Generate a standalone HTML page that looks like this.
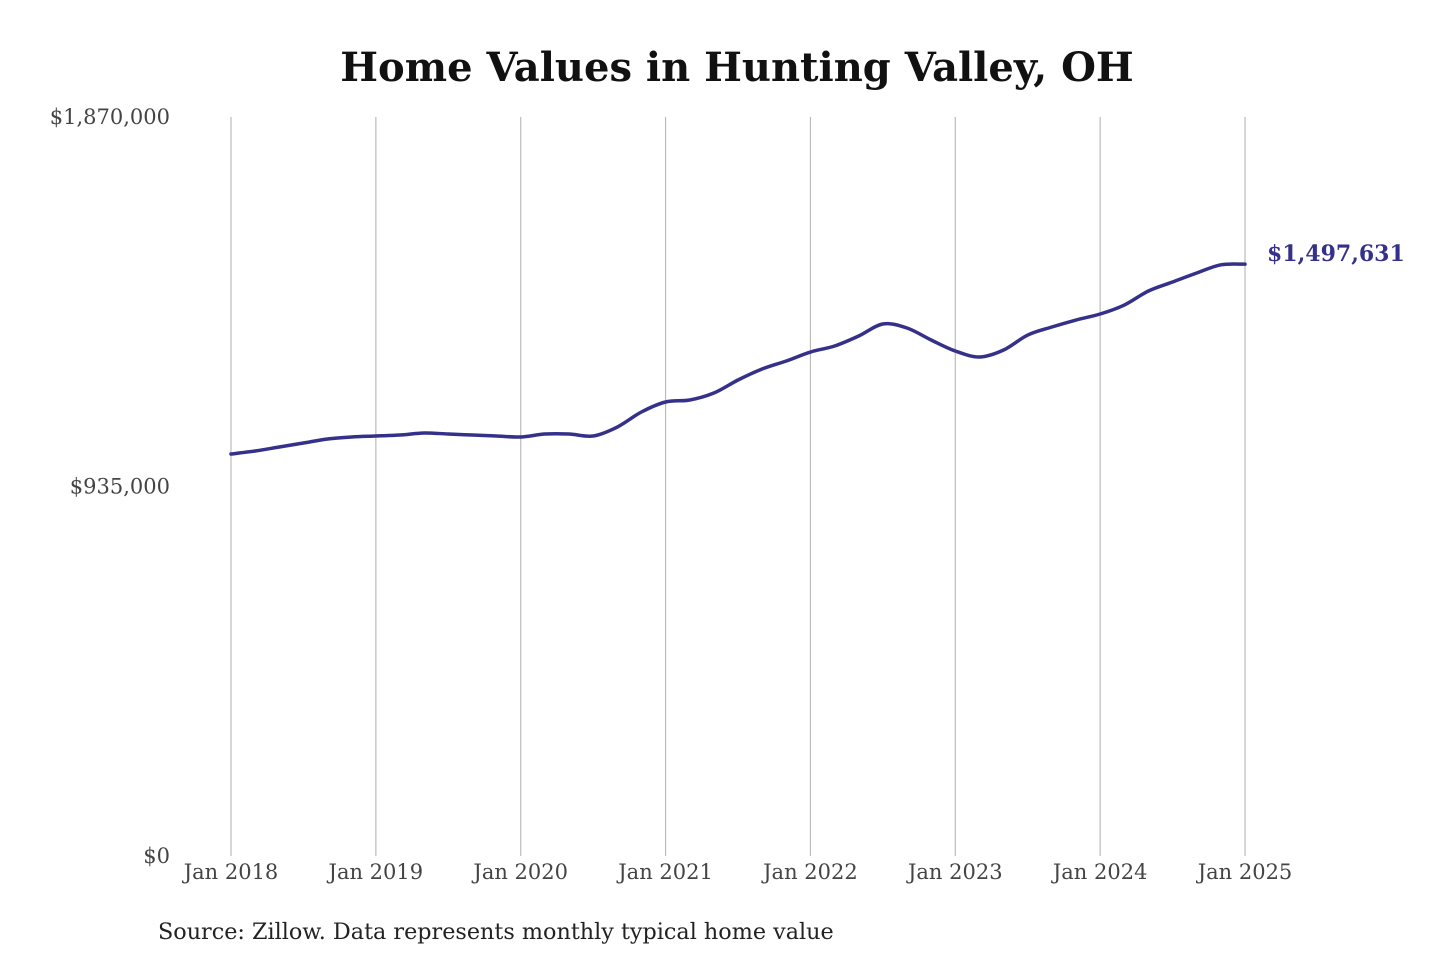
<!DOCTYPE html>
<html><head><meta charset="utf-8"><style>
html,body{margin:0;padding:0;background:#fff;}
svg{display:block;}
</style></head><body>
<svg id="chart" width="1440" height="960" viewBox="0 0 1440 960" xmlns="http://www.w3.org/2000/svg">
<text x="737" y="81" text-anchor="middle" font-family="'DejaVu Serif',serif" font-weight="bold" font-size="40" fill="#111">Home Values in Hunting Valley, OH</text>
<g id="grid"></g>
<g id="yaxis"></g>
<g id="xaxis"></g>
<g id="series"></g>
<text x="158" y="939" font-family="'DejaVu Serif',serif" font-size="22.3" fill="#222">Source: Zillow. Data represents monthly typical home value</text>
</svg>
<script>
const xTickLabels = ["Jan 2018","Jan 2019","Jan 2020","Jan 2021","Jan 2022","Jan 2023","Jan 2024","Jan 2025"];
const yTickValues = [0, 935000, 1870000];
const yTickLabels = ["$0","$935,000","$1,870,000"];
// values every 2 months from Jan 2018 (month index = i*2)
const values = [1017200,1024800,1034900,1045100,1055200,1060300,1062800,1065300,1070400,1067800,1065300,1062800,1060300,1067800,1067800,1062800,1085500,1123500,1148800,1153900,1171600,1204500,1232300,1252600,1275300,1290500,1315800,1346200,1336100,1305700,1277900,1262700,1280400,1318300,1338600,1356300,1371500,1394200,1429700,1452500,1475200,1496000,1497631];
const endLabel = "$1,497,631";

const NS="http://www.w3.org/2000/svg";
const x0=231, x1=1245, months=84, yTop=117, yBot=856, yMax=1870000;
const xs=m=>x0+(x1-x0)*m/months;
const ys=v=>yBot-(yBot-yTop)*v/yMax;
function mk(t,a,p){const e=document.createElementNS(NS,t);for(const k in a)e.setAttribute(k,a[k]);p.appendChild(e);return e;}
const grid=document.getElementById('grid'), xa=document.getElementById('xaxis'), ya=document.getElementById('yaxis'), se=document.getElementById('series');
xTickLabels.forEach((l,i)=>{
  const x=xs(i*12);
  const g=mk('line',{x1:x,x2:x,y1:yTop,y2:yBot,stroke:'#bbb','stroke-width':1.2},grid);
  
  
  const t=mk('text',{x:x,y:879,'text-anchor':'middle','font-family':"'DejaVu Serif',serif",'font-size':21,fill:'#444'},xa);
  t.textContent=l;
  
  
});
yTickValues.forEach((v,i)=>{
  const t=mk('text',{x:170,y:ys(v)+7,'text-anchor':'end','font-family':"'DejaVu Serif',serif",'font-size':21,fill:'#444'},ya);
  t.textContent=yTickLabels[i];
  
  
});
const pts=values.map((v,i)=>[xs(i*2),ys(v)]);
let d='M'+pts[0][0]+','+pts[0][1];
for(let i=0;i<pts.length-1;i++){
  const p0=pts[Math.max(0,i-1)],p1=pts[i],p2=pts[i+1],p3=pts[Math.min(pts.length-1,i+2)];
  const c1=[p1[0]+(p2[0]-p0[0])/6,p1[1]+(p2[1]-p0[1])/6];
  const c2=[p2[0]-(p3[0]-p1[0])/6,p2[1]-(p3[1]-p1[1])/6];
  d+=' C'+c1+' '+c2+' '+p2;
}
const path=mk('path',{d:d,fill:'none',stroke:'#35318a','stroke-width':3.5,'stroke-linejoin':'round','stroke-linecap':'round'},se);


const last=pts[pts.length-1];
const lab=mk('text',{x:1267,y:last[1]-3,'font-family':"'DejaVu Serif',serif",'font-weight':'bold','font-size':22,fill:'#35318a'},se);
lab.textContent=endLabel;


</script>
</body></html>
